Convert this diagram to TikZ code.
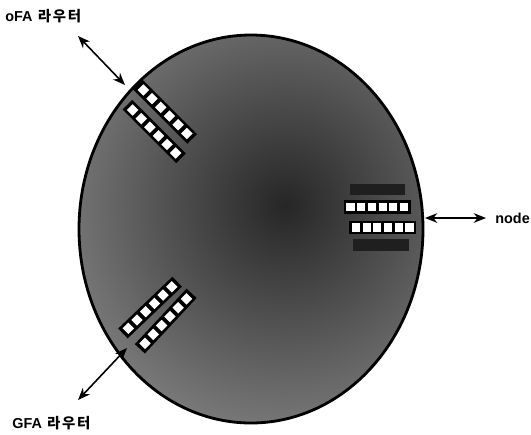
\documentclass[tikz,border=0pt]{standalone}
\usepackage{fontspec}
\setmainfont{Liberation Sans}
\newfontfamily\kr{Noto Sans CJK KR}
\usetikzlibrary{arrows.meta,positioning,calc}

\begin{document}
\begin{tikzpicture}[x=0.02cm,y=-0.02cm,
    label text/.style={font=\fontsize{8.2}{10}\selectfont\bfseries,inner sep=0pt},
    link/.style={{Stealth[length=7pt,width=5.5pt]}-{Stealth[length=7pt,width=5.5pt]},line width=0.9pt},
    strip/.style={line width=7.8pt,black},
    cell/.style={fill=white,minimum size=4.6pt,inner sep=0pt}]
    \useasboundingbox (0,0) rectangle (531,434);

    % Disc
    \begin{scope}
        \clip (251,229) ellipse [x radius=172, y radius=194];
        \shade[inner color=black!85, outer color=black!48] (285,205) circle (260);
    \end{scope}
    \draw[line width=1.6pt] (251,229) ellipse [x radius=172, y radius=194];

    % Dark blocks beside the node ports
    \fill[black!88] (350,184) rectangle (405,195);
    \fill[black!88] (353,239) rectangle (409,251);

    % Port rows
    \foreach \name/\sx/\sy/\dx/\dy/\ang in {
        ula/143.3/90/8.7/8.7/-45,
        ulb/132.7/110/8.6/8.6/-45,
        lla/128.3/328.3/8.7/-8.3/45,
        llb/145/343.3/8.3/-8.9/45,
        rta/350.5/207/10.7/0/0,
        rtb/356/227.5/10.7/0/0}{
        \draw[strip] (\sx-0.62*\dx,\sy-0.62*\dy) -- (\sx+5.62*\dx,\sy+5.62*\dy);
        \foreach \k in {0,...,5}
            \node[cell,rotate=\ang] (\name\k) at (\sx+\k*\dx,\sy+\k*\dy) {};
    }

    % Labels
    \node[label text,anchor=west] (ofa) at (5,16) {oFA\hspace{3pt}{\kr 라\hspace{1pt}우\hspace{1pt}터}};
    \node[label text,anchor=west] (gfa) at (12,423) {GFA\hspace{3pt}{\kr 라\hspace{1pt}우\hspace{1pt}터}};
    \node[label text,anchor=west] (nd) at (495,218) {node};

    % Links
    \coordinate (ofa end) at (78,36);
    \coordinate (ofa port) at (125,85);
    \coordinate (gfa end) at (78,400);
    \coordinate (gfa port) at (127,348);
    \coordinate (nd port) at (425,218);
    \coordinate (nd end) at (486,218);
    \draw[link] (ofa end) -- (ofa port);
    \draw[link] (gfa port) -- (gfa end);
    \draw[link] (nd port) -- (nd end);
\end{tikzpicture}
\end{document}
